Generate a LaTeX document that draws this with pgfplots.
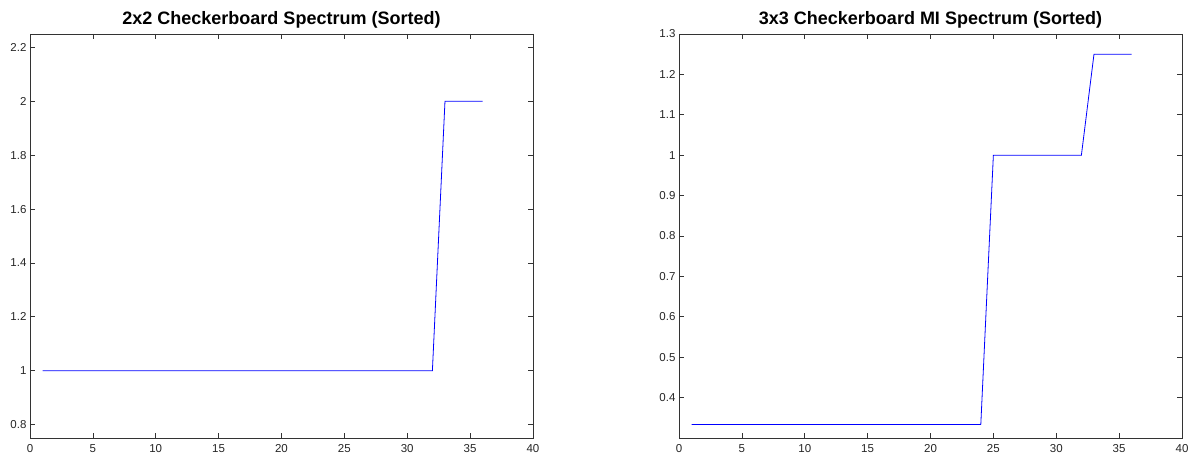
\documentclass[border=0pt]{standalone}
\usepackage{pgfplots}
\pgfplotsset{compat=1.18}
\usepackage{fontspec}
\setmainfont{Liberation Sans}

\begin{document}
\begin{tikzpicture}[x=1pt,y=1pt]
\useasboundingbox (-30,-24) rectangle (1165,438);
\pgfplotsset{
    every axis title/.style={at={(0.5,1)}, anchor=base, yshift=9pt,
        font=\bfseries\fontsize{18}{20}\selectfont},
    octave/.style={
        width=503pt, height=404pt, scale only axis,
        xmin=0, xmax=40, xtick={0,5,...,40},
        ticklabel style={font=\fontsize{11.5}{13}\selectfont, black!85},
        xticklabel style={yshift=-3pt},
        /pgf/number format/assume math mode=true,
        axis line style={line width=0.8pt, black!80},
        tick style={black!80, line width=0.6pt},
        major tick length=5pt,
    }
}
\begin{axis}[octave, at={(0pt,0pt)}, anchor=south west,
    title={2x2 Checkerboard Spectrum (Sorted)},
    ymin=0.75, ymax=2.25, ytick={0.8,1,1.2,1.4,1.6,1.8,2,2.2}]
    \addplot[blue, line width=0.8pt] coordinates {
        (1,1) (2,1) (3,1) (4,1) (5,1) (6,1) (7,1) (8,1)
        (9,1) (10,1) (11,1) (12,1) (13,1) (14,1) (15,1) (16,1)
        (17,1) (18,1) (19,1) (20,1) (21,1) (22,1) (23,1) (24,1)
        (25,1) (26,1) (27,1) (28,1) (29,1) (30,1) (31,1) (32,1)
        (33,2) (34,2) (35,2) (36,2)
    };
\end{axis}
\begin{axis}[octave, at={(649pt,0pt)}, anchor=south west,
    title={3x3 Checkerboard MI Spectrum (Sorted)},
    ymin=0.3, ymax=1.3, ytick={0.4,0.5,0.6,0.7,0.8,0.9,1,1.1,1.2,1.3}]
    \addplot[blue, line width=0.8pt] coordinates {
        (1,0.3333) (2,0.3333) (3,0.3333) (4,0.3333) (5,0.3333) (6,0.3333)
        (7,0.3333) (8,0.3333) (9,0.3333) (10,0.3333) (11,0.3333) (12,0.3333)
        (13,0.3333) (14,0.3333) (15,0.3333) (16,0.3333) (17,0.3333) (18,0.3333)
        (19,0.3333) (20,0.3333) (21,0.3333) (22,0.3333) (23,0.3333) (24,0.3333)
        (25,1) (26,1) (27,1) (28,1) (29,1) (30,1) (31,1) (32,1)
        (33,1.25) (34,1.25) (35,1.25) (36,1.25)
    };
\end{axis}
\end{tikzpicture}
\end{document}
